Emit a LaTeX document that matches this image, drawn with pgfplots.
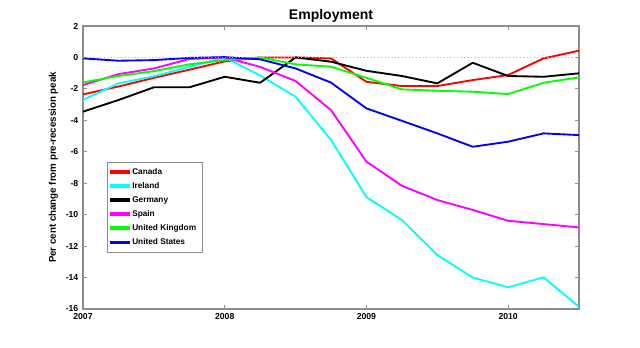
\documentclass[border=0pt]{standalone}
\usepackage{pgfplots}
\pgfplotsset{compat=1.18}
\usepackage{fontspec}
\setmainfont{Liberation Sans}
\definecolor{axgray}{RGB}{140,140,140}
\definecolor{mred}{RGB}{255,0,0}
\definecolor{mcyan}{RGB}{0,255,255}
\definecolor{mmag}{RGB}{255,0,255}
\definecolor{mgreen}{RGB}{0,255,0}
\definecolor{mblue}{RGB}{0,0,255}
\begin{document}
\begin{tikzpicture}
\begin{axis}[
  at={(0,0)}, anchor=south west,
  scale only axis,
  width=372pt, height=212.25pt,
  xmin=2007, xmax=2010.5,
  ymin=-16, ymax=2,
  xtick={2007,2008,2009,2010},
  ytick={-16,-14,...,2},
  tick align=inside,
  major tick length=3pt,
  axis line style={axgray, line width=0.8pt},
  every tick/.style={axgray, line width=0.6pt},
  xticklabel style={/pgf/number format/1000 sep={}, font=\fontsize{6.5}{8}\selectfont\bfseries},
  yticklabel style={font=\fontsize{6.5}{8}\selectfont\bfseries},
  /pgf/number format/assume math mode=true,
  title={\bfseries Employment},
  title style={font=\fontsize{10.5}{12}\selectfont, yshift=-7pt},
  ylabel={\bfseries Per cent change from pre-recession peak},
  ylabel style={font=\fontsize{7.3}{9}\selectfont, yshift=-1pt},
  legend style={at={(0.048,0.52)}, anchor=north west, draw=axgray, font=\fontsize{6.2}{7.5}\selectfont\bfseries, row sep=0.6pt, inner sep=2.5pt},
  legend cell align=left,
  legend image code/.code={\fill[#1] (0pt,-0.75pt) rectangle (13pt,0.75pt);},
]
\addplot[mred, line width=1.4pt] coordinates {
(2007,-2.35) (2007.25,-1.85) (2007.5,-1.3) (2007.75,-0.78) (2008,-0.25) (2008.25,0) (2008.5,0) (2008.75,-0.06)
(2009,-1.55) (2009.25,-1.82) (2009.5,-1.82) (2009.75,-1.44) (2010,-1.12) (2010.25,-0.06) (2010.5,0.43)};
\addplot[mcyan, line width=1.4pt] coordinates {
(2007,-2.7) (2007.25,-1.65) (2007.5,-1.2) (2007.75,-0.6) (2008,0) (2008.25,-1.15) (2008.5,-2.5) (2008.75,-5.25)
(2009,-8.88) (2009.25,-10.34) (2009.5,-12.57) (2009.75,-14.0) (2010,-14.62) (2010.25,-13.99) (2010.5,-15.86)};
\addplot[black, line width=1.4pt] coordinates {
(2007,-3.45) (2007.25,-2.71) (2007.5,-1.9) (2007.75,-1.9) (2008,-1.23) (2008.25,-1.61) (2008.5,0) (2008.75,-0.27)
(2009,-0.85) (2009.25,-1.18) (2009.5,-1.65) (2009.75,-0.34) (2010,-1.18) (2010.25,-1.23) (2010.5,-1.01)};
\addplot[mmag, line width=1.4pt] coordinates {
(2007,-1.76) (2007.25,-1.06) (2007.5,-0.7) (2007.75,-0.1) (2008,0) (2008.25,-0.6) (2008.5,-1.5) (2008.75,-3.35)
(2009,-6.63) (2009.25,-8.16) (2009.5,-9.07) (2009.75,-9.7) (2010,-10.39) (2010.25,-10.6) (2010.5,-10.81)};
\addplot[mgreen, line width=1.4pt] coordinates {
(2007,-1.59) (2007.25,-1.18) (2007.5,-0.87) (2007.75,-0.44) (2008,-0.17) (2008.25,0) (2008.5,-0.44) (2008.75,-0.59)
(2009,-1.3) (2009.25,-2.03) (2009.5,-2.12) (2009.75,-2.18) (2010,-2.33) (2010.25,-1.61) (2010.5,-1.27)};
\addplot[mblue, line width=1.4pt] coordinates {
(2007,-0.06) (2007.25,-0.21) (2007.5,-0.17) (2007.75,-0.03) (2008,0.02) (2008.25,-0.12) (2008.5,-0.7) (2008.75,-1.6)
(2009,-3.24) (2009.25,-4.03) (2009.5,-4.83) (2009.75,-5.68) (2010,-5.36) (2010.25,-4.83) (2010.5,-4.94)};
\legend{Canada, Ireland, Germany, Spain, United Kingdom, United States}
\addplot[axgray!70, dotted, line width=0.6pt, forget plot] coordinates {(2007,0) (2010.5,0)};
\end{axis}
\pgfresetboundingbox
\path[use as bounding box] (-62.25pt,-29.25pt) rectangle (417.75pt,231.75pt);
\end{tikzpicture}
\end{document}
